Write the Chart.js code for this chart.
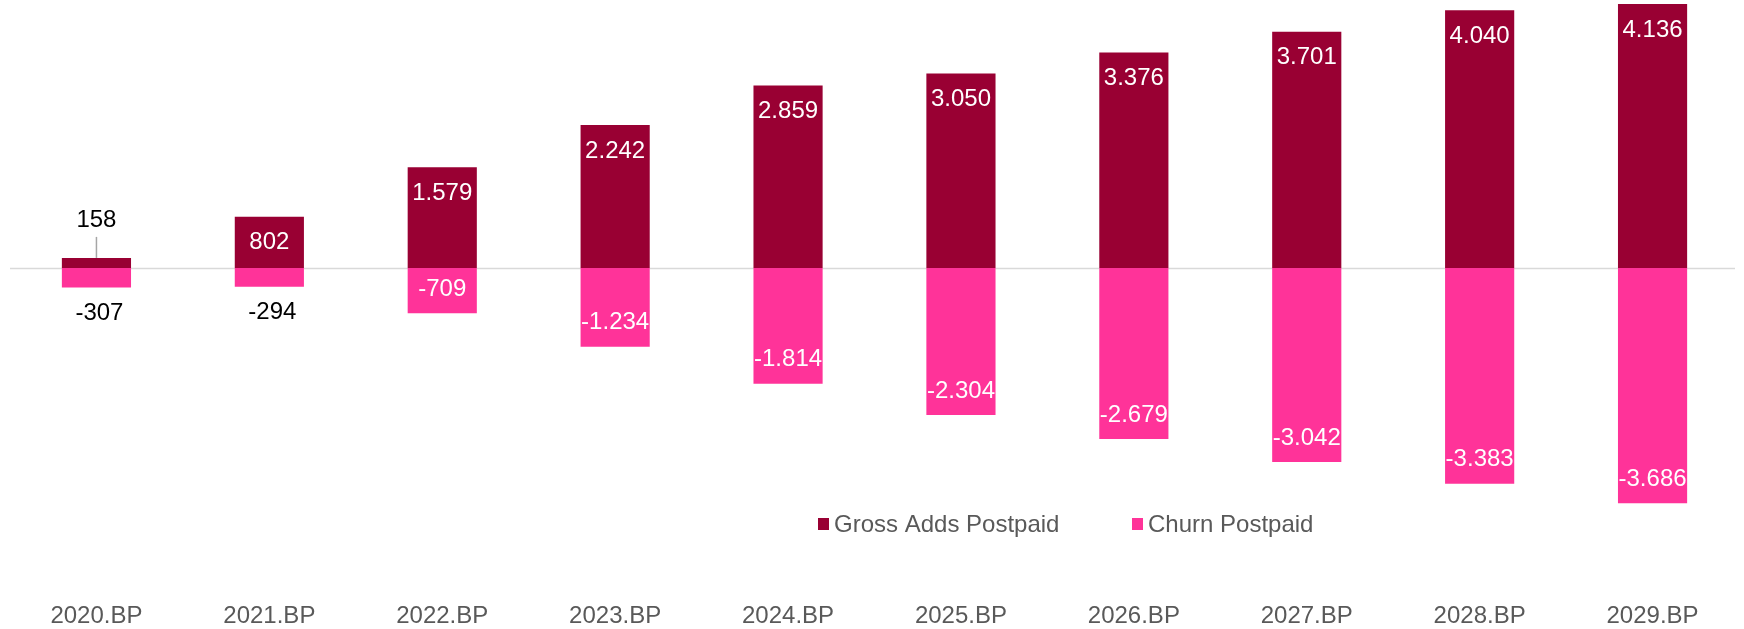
<!DOCTYPE html>
<html>
<head>
<meta charset="utf-8">
<title>Postpaid Gross Adds vs Churn</title>
<script src="https://cdn.jsdelivr.net/npm/chart.js@4.4.1/dist/chart.umd.min.js"></script>
<style>
  html, body { margin: 0; padding: 0; background: #fff; }
  #wrap { width: 1744px; height: 629px; position: relative; }
</style>
</head>
<body>
<div id="wrap"><canvas id="postpaidChart"></canvas></div>
<script>
// Chart data
const years = ["2020.BP", "2021.BP", "2022.BP", "2023.BP", "2024.BP", "2025.BP", "2026.BP", "2027.BP", "2028.BP", "2029.BP"];
const grossAdds = [158, 802, 1579, 2242, 2859, 3050, 3376, 3701, 4040, 4136];
const churn = [-307, -294, -709, -1234, -1814, -2304, -2679, -3042, -3383, -3686];
const seriesNames = ["Gross Adds Postpaid", "Churn Postpaid"];
const seriesColors = ["#990033", "#FF3399"];

const FONT = "'Liberation Sans', Arial, sans-serif";

// German style thousands separator: 1.579
function fmt(v) {
    const sign = v < 0 ? "-" : "";
    return sign + String(Math.abs(v)).replace(/\B(?=(\d{3})+(?!\d))/g, ".");
}

// Zero line
const zeroLine = {
    id: "zeroLine",
    beforeDatasetsDraw(chart) {
        const { ctx, chartArea, scales } = chart;
        const y = Math.round(scales.y.getPixelForValue(0)) + 0.5;
        ctx.save();
        ctx.strokeStyle = "#d9d9d9";
        ctx.lineWidth = 1.5;
        ctx.beginPath();
        ctx.moveTo(chartArea.left, y);
        ctx.lineTo(chartArea.right - 4, y);
        ctx.stroke();
        ctx.restore();
    }
};

// Value labels: inside end when the bar is tall enough, outside otherwise
const valueLabels = {
    id: "valueLabels",
    afterDatasetsDraw(chart) {
        const { ctx } = chart;
        ctx.save();
        ctx.font = "24px " + FONT;
        ctx.textAlign = "center";
        ctx.textBaseline = "middle";
        chart.data.datasets.forEach((ds, di) => {
            const meta = chart.getDatasetMeta(di);
            meta.data.forEach((bar, i) => {
                const v = ds.data[i];
                const h = Math.abs(bar.base - bar.y);
                const txt = fmt(v);
                if (h > 30) {
                    ctx.fillStyle = "#ffffff";
                    ctx.fillText(txt, bar.x, v >= 0 ? bar.y + 26 : bar.y - 24);
                } else if (v >= 0) {
                    // leader line + label above
                    ctx.strokeStyle = "#a6a6a6";
                    ctx.lineWidth = 1.5;
                    ctx.beginPath();
                    ctx.moveTo(bar.x, bar.y);
                    ctx.lineTo(bar.x, bar.y - 21);
                    ctx.stroke();
                    ctx.fillStyle = "#000000";
                    ctx.fillText(txt, bar.x, bar.y - 38);
                } else {
                    ctx.fillStyle = "#000000";
                    ctx.fillText(txt, bar.x + 3, bar.y + 26);
                }
            });
        });
        ctx.restore();
    }
};

// Legend drawn inside the plot, below the zero line
const innerLegend = {
    id: "innerLegend",
    afterDraw(chart) {
        const { ctx } = chart;
        const y = 524;
        let x = 818;
        ctx.save();
        ctx.font = "24px " + FONT;
        ctx.textBaseline = "middle";
        ctx.textAlign = "left";
        seriesNames.forEach((name, i) => {
            ctx.fillStyle = seriesColors[i];
            ctx.fillRect(x, y - 6, 11, 12);
            ctx.fillStyle = "#595959";
            ctx.fillText(name, x + 16, y + 1);
            x += 314;
        });
        ctx.restore();
    }
};

const ctx = document.getElementById("postpaidChart").getContext("2d");
new Chart(ctx, {
    type: "bar",
    data: {
        labels: years,
        datasets: [
            { label: seriesNames[0], data: grossAdds, backgroundColor: seriesColors[0] },
            { label: seriesNames[1], data: churn, backgroundColor: seriesColors[1] }
        ]
    },
    options: {
        responsive: true,
        maintainAspectRatio: false,
        animation: false,
        layout: { padding: { left: 10, right: 5, top: 0, bottom: 0 } },
        datasets: { bar: { categoryPercentage: 1, barPercentage: 0.4 } },
        plugins: {
            legend: { display: false },
            tooltip: { enabled: false }
        },
        scales: {
            x: {
                stacked: true,
                grid: { display: false, drawTicks: false },
                border: { display: false },
                ticks: { color: "#595959", font: { family: FONT, size: 24 }, padding: 15, maxRotation: 0 },
                afterFit(scale) { scale.height = 42; }
            },
            y: {
                stacked: true,
                display: false,
                min: -5000,
                max: 4200
            }
        }
    },
    plugins: [zeroLine, valueLabels, innerLegend]
});
</script>
</body>
</html>
